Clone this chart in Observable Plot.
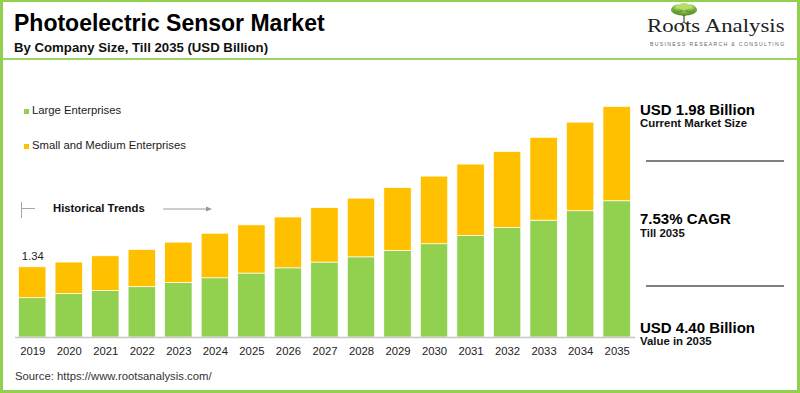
<!DOCTYPE html>
<html>
<head>
<meta charset="utf-8">
<script src="https://cdn.jsdelivr.net/npm/d3@7"></script>
<script src="https://cdn.jsdelivr.net/npm/@observablehq/plot@0.6"></script>
<style>
  html, body { margin: 0; padding: 0; background: #fff; }
  #root { position: relative; width: 800px; height: 393px; overflow: hidden; background: #fff;
          font-family: "Liberation Sans", Arial, sans-serif; color: #111; }
  .abs { position: absolute; white-space: nowrap; line-height: 1; }
  .b { font-weight: bold; }
  #frame { position: absolute; left: 0; top: 0; width: 800px; height: 393px; box-sizing: border-box;
           border-style: solid; border-color: #92d050; border-width: 2px 3px 3px 3px; pointer-events: none; }
  #titleRule { position: absolute; left: 0; top: 58px; width: 800px; height: 1.5px; background: #9fd465; }
  #chart { position: absolute; left: 0; top: 60px; }
  .sq { position: absolute; width: 5px; height: 5px; }
  .hr { position: absolute; height: 2px; background: #7f7f7f; }
</style>
</head>
<body>
<div id="root">
  <div id="chart"></div>

  <div class="abs b" style="left:14px; top:12.2px; font-size:23px; color:#000;">Photoelectric Sensor Market</div>
  <div class="abs b" style="left:14px; top:40.5px; font-size:13.2px; color:#111;">By Company Size, Till 2035 (USD Billion)</div>

  <!-- logo -->
  <svg class="abs" style="left:668px; top:2px;" width="34" height="24" viewBox="0 0 34 24">
    <defs>
      <radialGradient id="canopy" cx="0.5" cy="0.3" r="0.7">
        <stop offset="0" stop-color="#c9e67a"/>
        <stop offset="0.6" stop-color="#7fb83f"/>
        <stop offset="1" stop-color="#4f8a2a"/>
      </radialGradient>
    </defs>
    <path d="M16 20 L16 12 M16 14 L11 10 M16 14 L21 10 M16 20 L12 23 M16 20 L20 23" stroke="#6a6a4a" stroke-width="1.4" fill="none"/>
    <ellipse cx="16" cy="8" rx="13" ry="5.5" fill="url(#canopy)"/>
    <ellipse cx="10" cy="6.5" rx="6" ry="4" fill="url(#canopy)"/>
    <ellipse cx="22" cy="6.5" rx="6" ry="4" fill="url(#canopy)"/>
    <ellipse cx="16" cy="4.5" rx="6" ry="3.5" fill="#b9dc6a"/>
  </svg>
  <div class="abs" style="left:647.3px; top:16px; font-size:19.5px; font-family:'Liberation Serif','Times New Roman',serif; color:#222; transform:scaleX(1.17); transform-origin:0 0;">Roots Analysis</div>
  <div class="abs" style="left:650px; top:41.6px; font-size:5.2px; letter-spacing:1.3px; color:#666;">BUSINESS RESEARCH &amp; CONSULTING</div>

  <!-- legend -->
  <div id="legend"></div>

  <!-- historical trends -->
  <div class="abs" style="left:20.5px; top:201.5px; width:1px; height:16px; background:#a6a6a6;"></div>
  <div class="abs" style="left:21px; top:208px; width:14px; height:1px; background:#a6a6a6;"></div>
  <div class="abs b" style="left:53px; top:202.7px; font-size:11.3px; color:#111;">Historical Trends</div>
  <svg class="abs" style="left:160px; top:203px;" width="56" height="12">
    <line x1="3" y1="6" x2="50" y2="6" stroke="#9a9a9a" stroke-width="1"/>
    <path d="M46 3.5 L52 6 L46 8.5 Z" fill="#9a9a9a"/>
  </svg>

  <!-- right panel -->
  <div class="abs b" style="left:640px; top:102.3px; font-size:15px; color:#000;">USD 1.98 Billion</div>
  <div class="abs b" style="left:640px; top:118px; font-size:11.4px; color:#111;">Current Market Size</div>
  <div class="hr" style="left:646px; top:160px; width:138px;"></div>
  <div class="abs b" style="left:640px; top:210.6px; font-size:15px; color:#000;">7.53% CAGR</div>
  <div class="abs b" style="left:640px; top:227.6px; font-size:11.4px; color:#111;">Till 2035</div>
  <div class="hr" style="left:646px; top:285px; width:138px;"></div>
  <div class="abs b" style="left:640px; top:319.6px; font-size:15px; color:#000;">USD 4.40 Billion</div>
  <div class="abs b" style="left:640px; top:336px; font-size:11.4px; color:#111;">Value in 2035</div>

  <div class="abs" style="left:15px; top:371.2px; font-size:11.3px; color:#333;">Source: https://www.rootsanalysis.com/</div>

  <div id="titleRule"></div>
  <div id="frame"></div>
</div>

<script>
// ---- data (USD Billion) ----
const years = [2019, 2020, 2021, 2022, 2023, 2024, 2025, 2026, 2027, 2028, 2029, 2030, 2031, 2032, 2033, 2034, 2035];
const largeEnterprises = [0.75, 0.83, 0.89, 0.96, 1.04, 1.13, 1.22, 1.32, 1.43, 1.53, 1.65, 1.78, 1.94, 2.09, 2.23, 2.41, 2.60];
const smallMediumEnterprises = [0.59, 0.60, 0.66, 0.71, 0.77, 0.85, 0.92, 0.97, 1.04, 1.12, 1.20, 1.29, 1.36, 1.45, 1.58, 1.69, 1.80];
const seriesNames = ["Large Enterprises", "Small and Medium Enterprises"];
const seriesColors = ["#92d050", "#ffc000"];
const labelledYears = [2019];

// ---- build table ----
const seriesValues = [largeEnterprises, smallMediumEnterprises];
const rows = [];
seriesNames.forEach((name, s) => {
  years.forEach((year, i) => rows.push({ year, series: name, value: seriesValues[s][i] }));
});
const totals = years.map((year, i) => ({ year, total: largeEnterprises[i] + smallMediumEnterprises[i] }));

// ---- legend ----
const legend = document.getElementById("legend");
const legendBaselines = [104.6, 139.6];
seriesNames.forEach((name, i) => {
  const sq = document.createElement("div");
  sq.className = "sq";
  sq.style.left = "23.5px";
  sq.style.top = (legendBaselines[i] + 4) + "px";
  sq.style.background = seriesColors[i];
  legend.appendChild(sq);
  const t = document.createElement("div");
  t.className = "abs";
  t.style.left = "32px";
  t.style.top = legendBaselines[i] + "px";
  t.style.fontSize = "11.3px";
  t.style.color = "#222";
  t.textContent = name;
  legend.appendChild(t);
});

// ---- chart ----
const chart = Plot.plot({
  width: 640,
  height: 305,
  marginLeft: 9.4,
  marginRight: 0.5,
  marginTop: 15,
  marginBottom: 28,
  style: { background: "transparent", fontFamily: "'Liberation Sans', Arial, sans-serif", fontSize: "11.3px", color: "#222", overflow: "visible" },
  x: { type: "band", domain: years, padding: 0.25, round: false, label: null },
  y: { domain: [0, 5], axis: null },
  color: { domain: seriesNames, range: seriesColors },
  marks: [
    Plot.barY(rows, { x: "year", y: "value", fill: "series", stroke: "#ffffff", strokeWidth: 0.7 }),
    Plot.ruleY([0], { stroke: "#c8c8c8", strokeWidth: 1.5, insetLeft: 5.6, insetRight: 4.5 }),
    Plot.text(totals.filter(d => labelledYears.includes(d.year)), {
      x: "year", y: "total", text: d => d.total.toFixed(2), dy: -10.6, fontSize: 11.3, fill: "#222"
    }),
    Plot.axisX({ tickSize: 0, tickPadding: 9, fontSize: 11.3, label: null, tickFormat: d => String(d) })
  ]
});
document.getElementById("chart").appendChild(chart);
</script>
</body>
</html>
